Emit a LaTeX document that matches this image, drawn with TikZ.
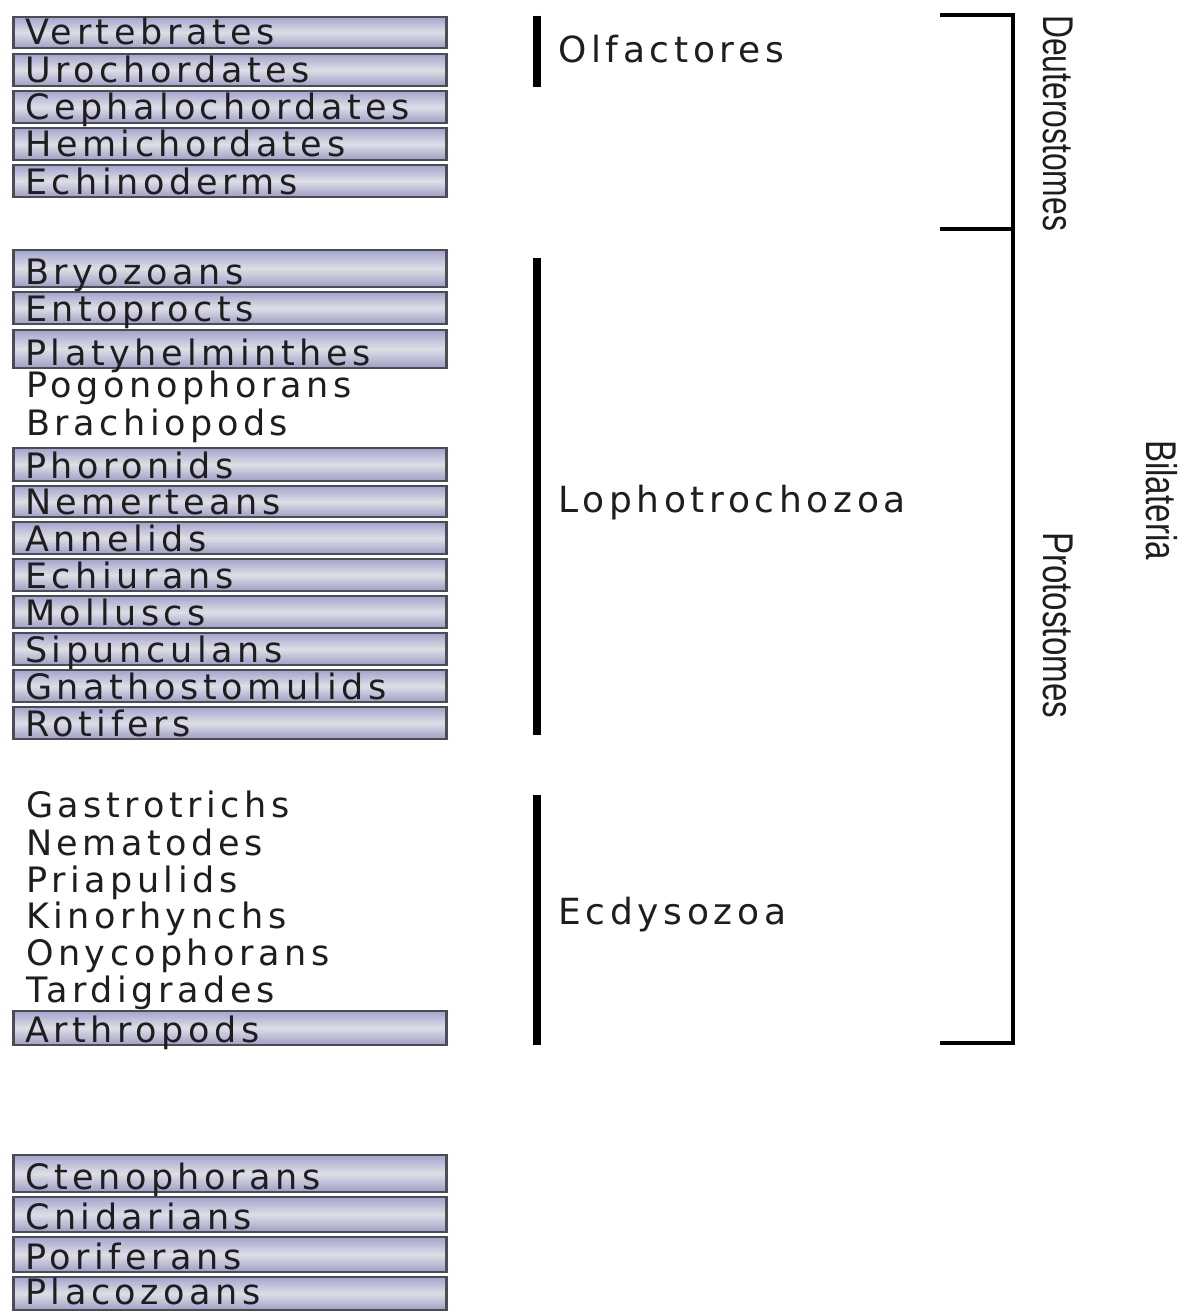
\documentclass[tikz,border=0pt]{standalone}
\usepackage{fontspec}
\setmainfont{DejaVu Sans}[LetterSpace=13]
\newfontfamily\narrowfont{Liberation Sans}
\definecolor{txt}{HTML}{1E1E20}
\definecolor{boxedge}{HTML}{4C4C54}
\definecolor{boxtop}{HTML}{A4A4CE}
\definecolor{boxmid}{HTML}{DEDEE6}
\definecolor{boxbot}{HTML}{9E9EC6}
\tikzset{
  gbox/.style={draw=boxedge, line width=2.5pt, top color=boxtop, bottom color=boxbot, middle color=boxmid, minimum width=433pt, inner sep=0pt},
  lbl/.style={anchor=base west, inner sep=0pt, text=txt, font=\fontsize{35}{35}\selectfont},
  clbl/.style={lbl, font=\fontsize{36}{36}\selectfont},
  clade/.style={line width=8pt, draw=black},
  brk/.style={line width=3.5pt, draw=black},
  rlbl/.style={anchor=base west, inner sep=0pt, rotate=-90, text=txt, font=\narrowfont\fontsize{43}{43}\selectfont}
}
\newcommand\gboxb[5]{%
  \node[gbox, minimum height={(#3-#2)*1pt}] (#1) at (230,{(#2+#3)/2}) {};
  \node[lbl] (#1t) at (25,#5) {#4};}
\newcommand\gbox[4]{\gboxb{#1}{#2}{#3}{#4}{#3-3}}
\begin{document}
\begin{tikzpicture}[x=1pt,y=-1pt]
\useasboundingbox[fill=white] (0,0) rectangle (1182,1311);
% Deuterostome boxes
\gbox{vert}{17}{48}{Vertebrates}
\gbox{uro}{54}{86}{Urochordates}
\gbox{ceph}{91}{123}{Cephalochordates}
\gbox{hemi}{128}{160}{Hemichordates}
\gbox{echi}{165}{197}{Echinoderms}
% Lophotrochozoa
\gbox{bryo}{250}{287}{Bryozoans}
\gbox{ento}{292}{324}{Entoprocts}
\gbox{platy}{330}{368}{Platyhelminthes}
\node[lbl] (pogo) at (26,397) {Pogonophorans};
\node[lbl] (brach) at (26,435) {Brachiopods};
\gbox{phor}{448}{481}{Phoronids}
\gbox{nem}{486}{517}{Nemerteans}
\gbox{ann}{522}{554}{Annelids}
\gbox{echiu}{559}{591}{Echiurans}
\gbox{moll}{596}{628}{Molluscs}
\gbox{sip}{633}{665}{Sipunculans}
\gbox{gnat}{670}{702}{Gnathostomulids}
\gbox{rot}{707}{739}{Rotifers}
% Ecdysozoa
\node[lbl] (gast) at (26,817) {Gastrotrichs};
\node[lbl] (nema) at (26,855) {Nematodes};
\node[lbl] (pria) at (26,892) {Priapulids};
\node[lbl] (kino) at (26,928) {Kinorhynchs};
\node[lbl] (onyc) at (26,965) {Onycophorans};
\node[lbl] (tard) at (26,1002) {Tardigrades};
\gbox{arth}{1011}{1045}{Arthropods}
% Non-bilaterians
\gbox{cten}{1155}{1192}{Ctenophorans}
\gbox{cnid}{1197}{1232}{Cnidarians}
\gbox{pori}{1237}{1272}{Poriferans}
\gboxb{plac}{1277}{1310}{Placozoans}{1304}
% clade bars
\coordinate (o1) at (537,16); \coordinate (o2) at (537,87);
\coordinate (l1) at (537,258); \coordinate (l2) at (537,735);
\coordinate (e1) at (537,795); \coordinate (e2) at (537,1045);
\draw[clade] (o1) -- (o2);
\draw[clade] (l1) -- (l2);
\draw[clade] (e1) -- (e2);
\node[clbl] (olf) at (558,63) {Olfactores};
\node[clbl] (loph) at (558,512) {Lophotrochozoa};
\node[clbl] (ecdy) at (558,924) {Ecdysozoa};
% bracket
\coordinate (bt0) at (940,15); \coordinate (bt1) at (1013,15);
\coordinate (bm0) at (940,229); \coordinate (bm1) at (1013,229);
\coordinate (bb0) at (940,1043); \coordinate (bb1) at (1013,1043);
\draw[brk] (bt0) -- (bt1) -- (bb1) -- (bb0);
\draw[brk] (bm0) -- (bm1);
\node[rlbl] (deut) at (1043,15) {\scalebox{0.74}[1]{Deuterostomes}};
\node[rlbl] (prot) at (1043,532) {\scalebox{0.77}[1]{Protostomes}};
\node[rlbl] (bila) at (1146,440) {\scalebox{0.77}[1]{Bilateria}};
\end{tikzpicture}
\end{document}
